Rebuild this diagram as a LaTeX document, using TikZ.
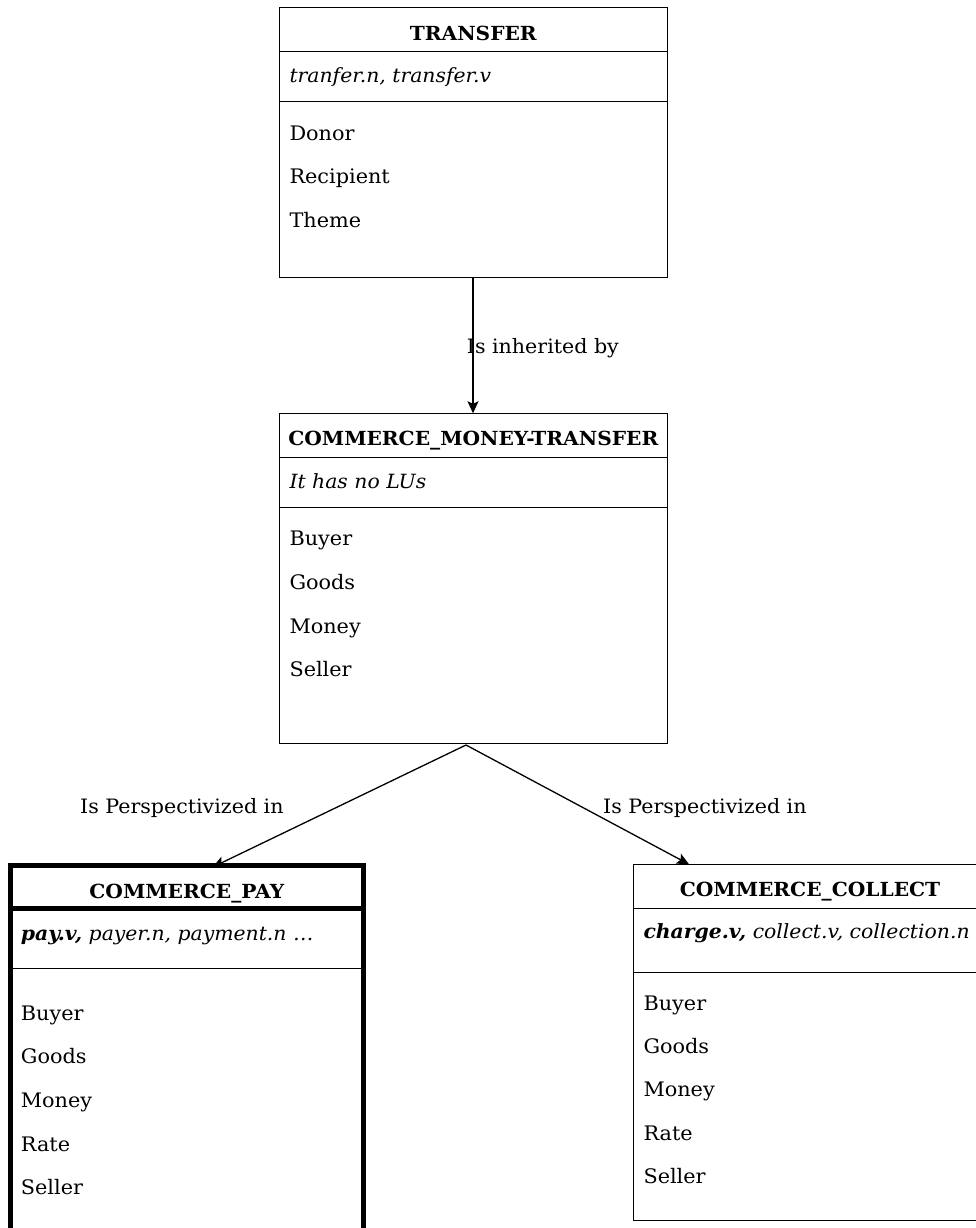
\documentclass[tikz,border=0pt]{standalone}
\usepackage{fontspec}
\setmainfont{DejaVu Serif}[FakeStretch=1.04]
\usetikzlibrary{arrows.meta}
\begin{document}
\begin{tikzpicture}[x=1pt,y=-1pt,
  frame/.style={draw, line width=1.3pt, rectangle, inner sep=0pt, outer sep=0pt, anchor=north west},
  heavyframe/.style={frame, line width=5pt},
  rule/.style={line width=1.3pt},
  heavyrule/.style={line width=4.5pt},
  ttl/.style={inner sep=0pt, anchor=base, font=\fontsize{19.4}{23}\selectfont\bfseries},
  lus/.style={inner sep=0pt, anchor=base west, font=\fontsize{19.6}{24}\selectfont\itshape},
  fe/.style={inner sep=0pt, anchor=base west, font=\fontsize{20}{24}\selectfont},
  rel/.style={inner sep=0pt, anchor=base west, font=\fontsize{19.8}{24}\selectfont},
  arr/.style={line width=1.3pt, -{Stealth[length=12pt,width=11pt,inset=2.5pt]}}
]
\useasboundingbox (0,0) rectangle (976,1228);

% TRANSFER frame
\node[frame, minimum width=388pt, minimum height=270.4pt] (transfer) at (279.3,7.3) {};
\draw[rule] (279.3,51.7) -- (667.3,51.7);
\draw[rule] (279.3,101.7) -- (667.3,101.7);
\node[ttl] (transferT) at (473.3,41) {TRANSFER};
\node[lus] (transferL) at (289.3,82.3) {tranfer.n, transfer.v};
\node[fe] (transferA) at (289.3,140) {Donor};
\node[fe] (transferB) at (289.3,183.7) {Recipient};
\node[fe] (transferC) at (289.3,227.4) {Theme};

% COMMERCE_MONEY-TRANSFER frame
\node[frame, minimum width=388pt, minimum height=330pt] (cmt) at (279.3,413.3) {};
\draw[rule] (279.3,457.3) -- (667.3,457.3);
\draw[rule] (279.3,507.3) -- (667.3,507.3);
\node[ttl] (cmtT) at (473.3,445.7) {COMMERCE\_MONEY-TRANSFER};
\node[lus] (cmtL) at (289.3,488.3) {It has no LUs};
\node[fe] (cmtA) at (289.3,545.7) {Buyer};
\node[fe] (cmtB) at (289.3,589.3) {Goods};
\node[fe] (cmtC) at (289.3,633.3) {Money};
\node[fe] (cmtD) at (289.3,676.7) {Seller};

% COMMERCE_PAY frame
\node[heavyframe, minimum width=353.7pt, minimum height=380pt] (pay) at (10,865) {};
\draw[heavyrule] (10,908.7) -- (363.7,908.7);
\draw[rule] (10,968.3) -- (363.7,968.3);
\node[ttl] (payT) at (186.8,898.3) {COMMERCE\_PAY};
\node[lus] (payL) at (20.7,940) {\textbf{pay.v,} payer.n, payment.n …};
\node[fe] (payA) at (20.7,1020) {Buyer};
\node[fe] (payB) at (20.7,1063.7) {Goods};
\node[fe] (payC) at (20.7,1107.3) {Money};
\node[fe] (payD) at (20.7,1151) {Rate};
\node[fe] (payE) at (20.7,1194.7) {Seller};

% COMMERCE_COLLECT frame
\node[frame, minimum width=353.4pt, minimum height=356.4pt] (col) at (633.3,864.3) {};
\draw[rule] (633.3,908.3) -- (986.7,908.3);
\draw[rule] (633.3,972.7) -- (986.7,972.7);
\node[ttl] (colT) at (810,896.7) {COMMERCE\_COLLECT};
\node[lus] (colL) at (643.3,938.3) {\textbf{charge.v,} collect.v, collection.n};
\node[fe] (colA) at (643.3,1010) {Buyer};
\node[fe] (colB) at (643.3,1053.3) {Goods};
\node[fe] (colC) at (643.3,1096.7) {Money};
\node[fe] (colD) at (643.3,1140) {Rate};
\node[fe] (colE) at (643.3,1183.3) {Seller};

% relations
\draw[arr] ([xshift=-0.3pt]transfer.south) -- ([xshift=-0.3pt]cmt.north);
\node[rel] (inh) at (466.7,353.3) {Is inherited by};

\coordinate (fork) at (466,745);
\draw[arr] (fork) -- ([xshift=26pt,yshift=-2pt]pay.north);
\draw[arr] (fork) -- ([xshift=-121pt]col.north);
\node[rel] (perspL) at (80,813) {Is Perspectivized in};
\node[rel] (perspR) at (603,813) {Is Perspectivized in};
\end{tikzpicture}
\end{document}
